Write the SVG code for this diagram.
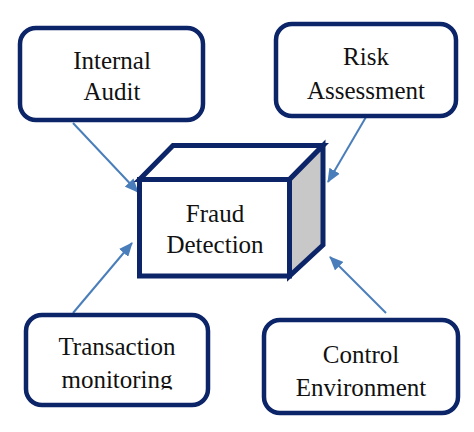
<svg xmlns="http://www.w3.org/2000/svg" width="474" height="432" viewBox="0 0 474 432">
<style>
.box{fill:#fff;stroke:#0c2468;stroke-width:4.5}
.cube{stroke:#0c2468;stroke-width:5;stroke-linejoin:miter}
.lbl{font-family:"Liberation Serif","Times New Roman",serif;font-size:25px;fill:#111;text-anchor:middle}
.conn{stroke:#4a7ebb;stroke-width:2;fill:none}
</style>
<defs>
<marker id="ah" markerUnits="userSpaceOnUse" markerWidth="14" markerHeight="12" refX="13" refY="6" orient="auto">
<path d="M0,0 L14,6 L0,12 z" fill="#4a7ebb"/>
</marker>
<clipPath id="clipT"><rect x="0" y="300" width="474" height="89.5"/></clipPath>
</defs>
<rect width="474" height="432" fill="#fff"/>
<g id="connectors">
<line class="conn" x1="73" y1="123" x2="138" y2="192" marker-end="url(#ah)"/>
<line class="conn" x1="366" y1="117" x2="328" y2="182" marker-end="url(#ah)"/>
<line class="conn" x1="73" y1="313" x2="132" y2="243" marker-end="url(#ah)"/>
<line class="conn" x1="386" y1="313" x2="330" y2="257" marker-end="url(#ah)"/>
</g>
<g id="internal-audit">
<rect class="box" x="20" y="28" width="183" height="92" rx="16"/>
<text class="lbl" x="112" y="69">Internal</text>
<text class="lbl" x="112" y="100">Audit</text>
</g>
<g id="risk-assessment">
<rect class="box" x="276" y="24" width="180" height="92" rx="16"/>
<text class="lbl" x="366" y="65">Risk</text>
<text class="lbl" x="366" y="99">Assessment</text>
</g>
<g id="fraud-detection">
<polygon class="cube" fill="#fff" points="139.5,179.5 173,145.5 323,145.5 289.5,179.5"/>
<polygon class="cube" fill="#c8c8c8" points="289.5,179.5 323,145.5 323,245 289.5,276"/>
<rect class="cube" fill="#fff" x="139.5" y="179.5" width="150" height="96.5"/>
<text class="lbl" x="215" y="222">Fraud</text>
<text class="lbl" x="215" y="253">Detection</text>
</g>
<g id="transaction-monitoring">
<rect class="box" x="26" y="315" width="182" height="90" rx="16"/>
<g clip-path="url(#clipT)">
<text class="lbl" x="117" y="355">Transaction</text>
<text class="lbl" x="117" y="388">monitoring</text>
</g>
</g>
<g id="control-environment">
<rect class="box" x="264" y="320" width="194" height="93" rx="16"/>
<text class="lbl" x="361" y="363">Control</text>
<text class="lbl" x="361" y="396">Environment</text>
</g>
</svg>
